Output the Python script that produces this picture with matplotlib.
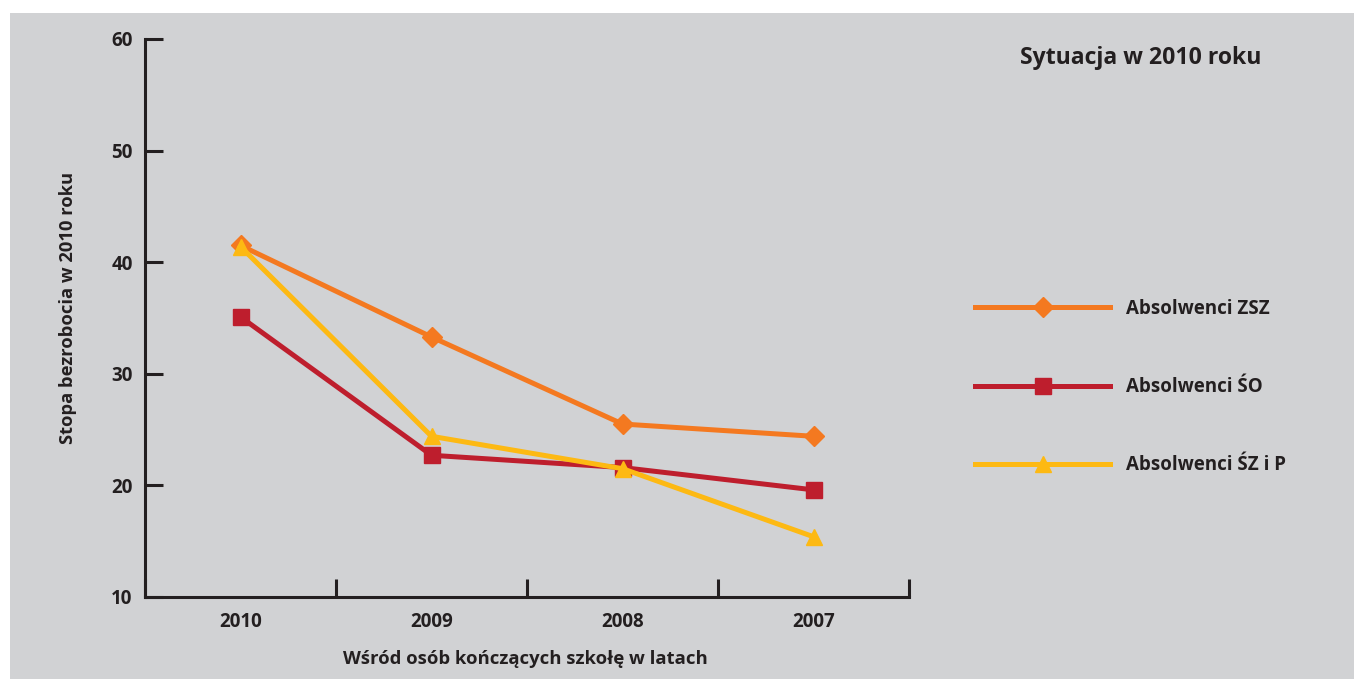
import matplotlib
matplotlib.use("Agg")
import matplotlib.pyplot as plt
from matplotlib.patches import Rectangle

# ---- data ----
categories = ["2010", "2009", "2008", "2007"]
zsz = [41.5, 33.3, 25.5, 24.4]
so = [35.1, 22.7, 21.6, 19.6]
szp = [41.4, 24.4, 21.5, 15.4]
series_labels = ["Absolwenci ZSZ", "Absolwenci ŚO", "Absolwenci ŚZ i P"]
yticks = [10, 20, 30, 40, 50, 60]
title = "Sytuacja w 2010 roku"
ylabel = "Stopa bezrobocia w 2010 roku"
xlabel = "Wśród osób kończących szkołę w latach"

W, H = 1354, 679
BG = "#d1d2d4"
INK = "#231f20"
C_ZSZ = "#f47920"
C_SO = "#be1e2d"
C_SZP = "#fdb913"

plt.rcParams["font.family"] = ["Open Sans", "DejaVu Sans"]
plt.rcParams["font.weight"] = "bold"

fig = plt.figure(figsize=(W / 100, H / 100), dpi=100, facecolor="white")
fig.add_artist(Rectangle((10 / W, 0), 1, 1 - 13 / H, transform=fig.transFigure,
                         facecolor=BG, edgecolor="none", zorder=-10))

ax = fig.add_axes([145 / W, 1 - 597 / H, (909 - 145) / W, (597 - 39) / H])
ax.set_facecolor("none")

x = list(range(len(categories)))
lw = 3.6
ax.plot(x, zsz, color=C_ZSZ, lw=lw, marker="D", ms=10, label=series_labels[0], zorder=3)
ax.plot(x, so, color=C_SO, lw=lw, marker="s", ms=11.5, label=series_labels[1], zorder=4)
ax.plot(x, szp, color=C_SZP, lw=lw, marker="^", ms=11.5, label=series_labels[2], zorder=5)

ax.set_xlim(-0.5, len(categories) - 0.5)
ax.set_ylim(10, 60)

for s in ["top", "right"]:
    ax.spines[s].set_visible(False)
for s in ["left", "bottom"]:
    ax.spines[s].set_color(INK)
    ax.spines[s].set_linewidth(2.2)

ax.set_yticks(yticks)
ax.set_yticklabels([str(v) for v in yticks])
ax.tick_params(axis="y", direction="in", length=13, width=2.2, color=INK,
               pad=9, labelsize=13.5, labelcolor=INK)

ax.set_xticks(x)
ax.set_xticklabels(categories)
ax.set_xticks([i - 0.5 for i in range(len(categories) + 1)], minor=True)
ax.tick_params(axis="x", which="major", length=0, pad=11, labelsize=13.5, labelcolor=INK)
ax.tick_params(axis="x", which="minor", direction="in", length=13, width=2.2, color=INK)

ax.set_ylabel(ylabel, fontsize=13.2, color=INK, fontweight="bold")
ax.yaxis.set_label_coords((68 - 145) / 764, (597 - 308) / 558)
ax.set_xlabel(xlabel, fontsize=13.3, color=INK, fontweight="bold")
ax.xaxis.set_label_coords((525 - 145) / 764, (597 - 659) / 558)
ax.xaxis.label.set_va("center")
ax.yaxis.label.set_va("center")

fig.text(1141 / W, 1 - 58 / H, title, ha="center", va="center",
         fontsize=16.6, fontweight="bold", color=INK)

leg = ax.legend(loc="upper left", bbox_to_anchor=(975 / W, 1 - 299 / H),
                bbox_transform=fig.transFigure, frameon=False, borderpad=0,
                borderaxespad=0, fontsize=13.5, handlelength=7.2,
                handletextpad=0.85, labelspacing=3.1)
for t in leg.get_texts():
    t.set_color(INK)
    t.set_fontweight("bold")

fig.savefig("out.png", dpi=100, facecolor="white")
